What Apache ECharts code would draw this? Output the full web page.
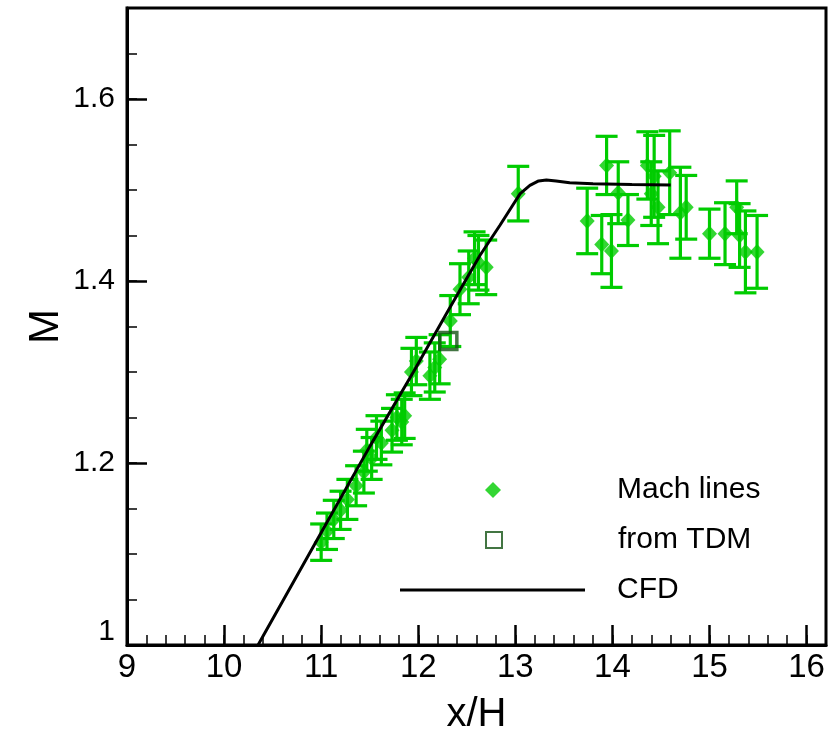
<!DOCTYPE html>
<html>
<head>
<meta charset="utf-8">
<script src="https://cdn.jsdelivr.net/npm/echarts@6/dist/echarts.min.js"></script>
<style>
  html, body { margin: 0; background: #fff; }
  #chart { width: 835px; height: 731px; }
</style>
</head>
<body>
<div id="chart"></div>
<script>
// Mach number from Mach lines (diamonds) with error bars
const machX = [11.00, 11.06, 11.13, 11.20, 11.27, 11.36, 11.44, 11.47, 11.52, 11.57,
  11.62, 11.73, 11.78, 11.83, 11.86, 11.93, 11.98, 12.12, 12.17, 12.22,
  12.33, 12.43, 12.52, 12.58, 12.62, 12.70, 13.03,
  13.74, 13.89, 13.94, 13.99, 14.06, 14.16, 14.36, 14.40, 14.43, 14.47,
  14.59, 14.70, 14.76, 15.00, 15.16, 15.28, 15.31, 15.37, 15.49];
const machM = [1.113, 1.125, 1.138, 1.148, 1.160, 1.175, 1.190, 1.214, 1.205, 1.228,
  1.222, 1.236, 1.250, 1.245, 1.252, 1.300, 1.312, 1.296, 1.305, 1.314,
  1.356, 1.391, 1.404, 1.425, 1.420, 1.415, 1.496,
  1.466, 1.440, 1.527, 1.433, 1.497, 1.467, 1.527, 1.496, 1.515, 1.481,
  1.519, 1.475, 1.481, 1.452, 1.452, 1.481, 1.450, 1.432, 1.432];
const machErr = [0.020, 0.020, 0.021, 0.021, 0.022, 0.022, 0.023, 0.023, 0.023, 0.024,
  0.024, 0.024, 0.025, 0.025, 0.025, 0.026, 0.026, 0.026, 0.027, 0.027,
  0.028, 0.028, 0.029, 0.029, 0.030, 0.030, 0.030,
  0.036, 0.032, 0.032, 0.040, 0.034, 0.028, 0.037, 0.035, 0.045, 0.040,
  0.046, 0.050, 0.035, 0.027, 0.034, 0.029, 0.035, 0.045, 0.040];

// Mach number from TDM (hollow square)
const tdmX = [12.31];
const tdmM = [1.334];

// CFD curve
const cfdX = [10.35, 11.06, 11.5, 11.95, 12.3, 12.635, 12.84, 12.96, 13.05,
  13.15, 13.24, 13.32, 13.42, 13.56, 13.8, 14.2, 14.6];
const cfdM = [1.0, 1.135, 1.218, 1.300, 1.366, 1.428, 1.461, 1.481, 1.496,
  1.505, 1.510, 1.511, 1.510, 1.508, 1.507, 1.506, 1.5055];

const green = '#00CC00';
const darkGreen = '#145214';
const font = 'Liberation Sans, Arial, sans-serif';
const legendText = { fontSize: 30, fontFamily: font, color: '#000', lineHeight: 34 };

const chart = echarts.init(document.getElementById('chart'));

const option = {
  backgroundColor: '#fff',
  animation: false,
  grid: {
    left: 127, right: 9, top: 8, bottom: 86,
    outerBoundsMode: 'none',
    containLabel: false,
    show: true, borderColor: '#000', borderWidth: 3, backgroundColor: 'transparent'
  },
  legend: [
    {
      data: ['Mach lines'],
      left: 485, top: 473, padding: 0,
      itemWidth: 16, itemHeight: 16, selectedMode: false,
      textStyle: Object.assign({ padding: [0, 0, 0, 111] }, legendText)
    },
    {
      data: ['from TDM'],
      left: 485, top: 523, padding: 0,
      itemWidth: 16, itemHeight: 16, selectedMode: false,
      textStyle: Object.assign({ padding: [0, 0, 0, 111] }, legendText)
    },
    {
      data: [{ name: 'CFD', icon: 'rect' }],
      left: 400, top: 573, padding: 0,
      itemWidth: 185, itemHeight: 3, selectedMode: false,
      textStyle: Object.assign({ padding: [0, 0, 0, 27] }, legendText)
    }
  ],
  xAxis: [
    {
      type: 'value', min: 9, max: 16.2, interval: 1, position: 'bottom',
      name: 'x/H', nameLocation: 'middle', nameGap: 50, nameMoveOverlap: false,
      nameTextStyle: { fontSize: 40, fontFamily: font, color: '#000' },
      axisLine: { lineStyle: { color: '#000', width: 3 } },
      axisTick: { inside: true, length: 20, lineStyle: { color: '#000', width: 2.5 } },
      axisLabel: { fontSize: 33, fontFamily: font, color: '#000', margin: 6, showMaxLabel: false },
      splitLine: { show: false }
    },
    {
      type: 'value', min: 9, max: 16.2, interval: 0.2, position: 'bottom',
      axisLine: { show: false },
      axisTick: { inside: true, length: 10, lineStyle: { color: '#000', width: 1.5 } },
      axisLabel: { show: false },
      splitLine: { show: false }
    }
  ],
  yAxis: [
    {
      type: 'value', min: 1, max: 1.7, interval: 0.2, position: 'left',
      name: 'M', nameLocation: 'middle', nameGap: 60, nameRotate: 90, nameMoveOverlap: false,
      nameTextStyle: { fontSize: 42, fontFamily: font, color: '#000' },
      axisLine: { lineStyle: { color: '#000', width: 3 } },
      axisTick: { inside: true, length: 20, lineStyle: { color: '#000', width: 2.5 } },
      axisLabel: {
        fontSize: 30, fontFamily: font, color: '#000', margin: 12, showMaxLabel: false,
        formatter: (v) => (v === 1 ? '{low|1}' : String(+v.toFixed(1))),
        rich: { low: { fontSize: 30, fontFamily: font, color: '#000', padding: [0, 0, 26, 0] } }
      },
      splitLine: { show: false }
    },
    {
      type: 'value', min: 1, max: 1.7, interval: 0.05, position: 'left',
      axisLine: { show: false },
      axisTick: { inside: true, length: 10, lineStyle: { color: '#000', width: 1.5 } },
      axisLabel: { show: false },
      splitLine: { show: false }
    }
  ],
  series: [
    {
      name: 'errors',
      type: 'custom',
      xAxisIndex: 0, yAxisIndex: 0,
      silent: true,
      z: 2,
      data: machX.map((x, i) => [x, machM[i] - machErr[i], machM[i] + machErr[i]]),
      encode: { x: 0, y: [1, 2] },
      renderItem: (params, api) => {
        const lo = api.coord([api.value(0), api.value(1)]);
        const hi = api.coord([api.value(0), api.value(2)]);
        const w = 11;
        const style = { stroke: green, lineWidth: 3.2 };
        return {
          type: 'group',
          children: [
            { type: 'line', shape: { x1: lo[0], y1: lo[1], x2: hi[0], y2: hi[1] }, style },
            { type: 'line', shape: { x1: lo[0] - w, y1: lo[1], x2: lo[0] + w, y2: lo[1] }, style },
            { type: 'line', shape: { x1: hi[0] - w, y1: hi[1], x2: hi[0] + w, y2: hi[1] }, style }
          ]
        };
      }
    },
    {
      name: 'Mach lines',
      type: 'scatter',
      xAxisIndex: 0, yAxisIndex: 0,
      z: 3,
      symbol: 'diamond',
      symbolSize: [15, 16],
      itemStyle: { color: green },
      data: machX.map((x, i) => [x, machM[i]])
    },
    {
      name: 'CFD',
      type: 'line',
      xAxisIndex: 0, yAxisIndex: 0,
      z: 4,
      showSymbol: false,
      symbol: 'none',
      lineStyle: { color: '#000', width: 3 },
      itemStyle: { color: '#000' },
      data: cfdX.map((x, i) => [x, cfdM[i]])
    },
    {
      name: 'from TDM',
      type: 'scatter',
      xAxisIndex: 0, yAxisIndex: 0,
      z: 5,
      symbol: 'rect',
      symbolSize: 17,
      itemStyle: { color: 'rgba(255,255,255,0)', borderColor: darkGreen, borderWidth: 3.5 },
      data: tdmX.map((x, i) => [x, tdmM[i]])
    }
  ]
};

chart.setOption(option);
window.addEventListener('resize', () => chart.resize());
</script>
</body>
</html>
